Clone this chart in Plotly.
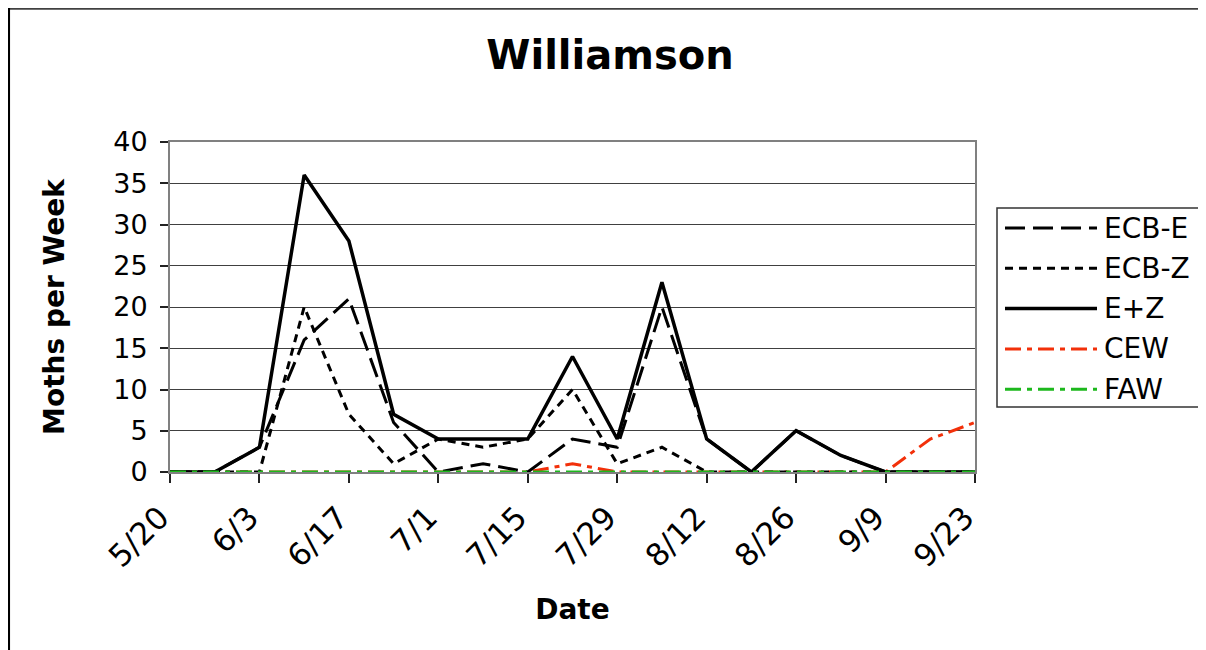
import plotly.graph_objects as go

dates = ["5/20", "5/27", "6/3", "6/10", "6/17", "6/24", "7/1", "7/8", "7/15", "7/22",
         "7/29", "8/5", "8/12", "8/19", "8/26", "9/2", "9/9", "9/16", "9/23"]
tick_labels = ["5/20", "6/3", "6/17", "7/1", "7/15", "7/29", "8/12", "8/26", "9/9", "9/23"]

ecb_e = [0, 0, 3, 16, 21, 6, 0, 1, 0, 4, 3, 20, 4, 0, 5, 2, 0, 0, 0]
ecb_z = [0, 0, 0, 20, 7, 1, 4, 3, 4, 10, 1, 3, 0, 0, 0, 0, 0, 0, 0]
e_plus_z = [0, 0, 3, 36, 28, 7, 4, 4, 4, 14, 4, 23, 4, 0, 5, 2, 0, 0, 0]
cew = [0, 0, 0, 0, 0, 0, 0, 0, 0, 1, 0, 0, 0, 0, 0, 0, 0, 4, 6]
faw = [0, 0, 0, 0, 0, 0, 0, 0, 0, 0, 0, 0, 0, 0, 0, 0, 0, 0, 0]

FONT = "DejaVu Sans"
# figure is placed by the page at (8, 8)
W, H = 1198, 642
L, R, T, B = 162, 967, 134, 464

DASH_LONG = "20px,8px"
DASH_SHORT = "8px,6px"
DASH_DOT = "16px,6px,5px,6px"

# (name, values, color, dash, width) in legend order
series = [
    ("ECB-E", ecb_e, "#000000", DASH_LONG, 3),
    ("ECB-Z", ecb_z, "#000000", DASH_SHORT, 3),
    ("E+Z", e_plus_z, "#000000", "solid", 3.5),
    ("CEW", cew, "#F2300A", DASH_DOT, 3),
    ("FAW", faw, "#1DB81D", DASH_DOT, 3),
]
# drawing order: CEW beneath the black lines, FAW on top
draw_order = ["CEW", "ECB-E", "ECB-Z", "E+Z", "FAW"]

fig = go.Figure()
by_name = {s[0]: s for s in series}
for nm in draw_order:
    name, vals, color, dash, width = by_name[nm]
    fig.add_trace(go.Scatter(
        x=dates, y=vals, name=name, mode="lines",
        line=dict(color=color, dash=dash, width=width),
        showlegend=False,
    ))


def px_x(p):
    return (p - L) / (R - L)


def px_y(p):
    return (B - p) / (B - T)


shapes = [
    # outer frame (top and left edges)
    dict(type="line", xref="paper", yref="paper",
         x0=px_x(0.5), x1=px_x(W + 5), y0=px_y(0.5), y1=px_y(0.5),
         line=dict(color="#404040", width=2.5)),
    dict(type="line", xref="paper", yref="paper",
         x0=px_x(0.8), x1=px_x(0.8), y0=px_y(0), y1=px_y(H + 5),
         line=dict(color="#000000", width=2.5)),
    # legend box
    dict(type="rect", xref="paper", yref="paper",
         x0=px_x(989), x1=px_x(1194), y0=px_y(200), y1=px_y(399),
         line=dict(color="#333333", width=1.5), fillcolor="white"),
]
annotations = []
for i, (name, vals, color, dash, width) in enumerate(series):
    yy = 220 + i * 40.3
    shapes.append(dict(type="line", xref="paper", yref="paper",
                       x0=px_x(997), x1=px_x(1089), y0=px_y(yy), y1=px_y(yy),
                       line=dict(color=color, dash=dash, width=width)))
    annotations.append(dict(text=name, xref="paper", yref="paper",
                            x=px_x(1094), y=px_y(yy), xanchor="left", yanchor="middle",
                            showarrow=False,
                            font=dict(family=FONT, size=28, color="black")))

fig.update_layout(
    width=W, height=H,
    margin=dict(l=L, r=W - R, t=T, b=H - B, pad=0),
    paper_bgcolor="white", plot_bgcolor="white",
    font=dict(family=FONT, size=27, color="black"),
    title=dict(text="<b>Williamson</b>", x=602 / W, xanchor="center",
               y=1 - 47 / H, yanchor="middle",
               font=dict(family=FONT, size=40, color="black")),
    showlegend=False,
    xaxis=dict(
        type="category", range=[0, len(dates) - 1],
        tickmode="array", tickvals=tick_labels, ticktext=tick_labels,
        tickangle=-45, ticks="outside", ticklen=9, tickcolor="#222222", tickwidth=1.5,
        ticklabelstandoff=4, ticklabelshift=-10,
        showline=True, linecolor="#808080", linewidth=2, mirror=True,
        showgrid=False, zeroline=False,
        title=dict(text="<b>Date</b>", font=dict(family=FONT, size=28), standoff=27),
        tickfont=dict(family=FONT, size=31),
    ),
    yaxis=dict(
        range=[0, 40], dtick=5, tick0=0,
        ticks="outside", ticklen=8, tickcolor="#222222", tickwidth=1.5,
        ticklabelstandoff=7,
        showline=True, linecolor="#808080", linewidth=2, mirror=True,
        showgrid=True, gridcolor="#404040", gridwidth=1, zeroline=False,
        title=dict(text="<b>Moths per Week</b>", font=dict(family=FONT, size=28), standoff=40),
        tickfont=dict(family=FONT, size=27),
    ),
    shapes=shapes,
    annotations=annotations,
)

fig.write_html("out.html")
